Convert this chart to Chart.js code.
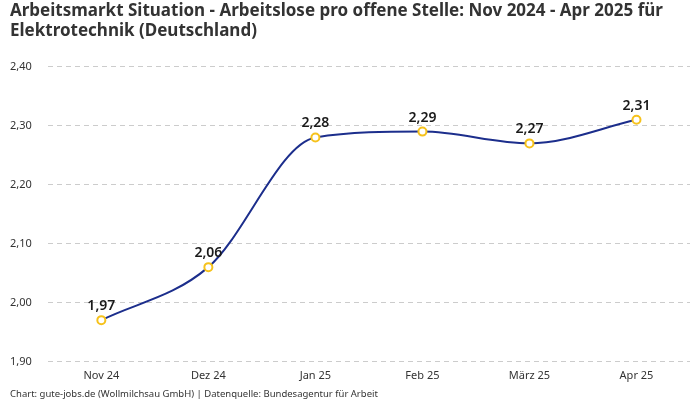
<!DOCTYPE html>
<html>
<head>
<meta charset="utf-8">
<script src="https://cdn.jsdelivr.net/npm/chart.js@4"></script>
<style>
  body { margin: 0; background: #fff; }
  #wrap { width: 700px; height: 400px; }
</style>
</head>
<body>
<div id="wrap"><canvas id="arbeitsChart"></canvas></div>
<script>
// months and values
var months = ['Nov 24', 'Dez 24', 'Jan 25', 'Feb 25', 'März 25', 'Apr 25'];
var ratioValues = [1.97, 2.06, 2.28, 2.29, 2.27, 2.31];
var yTicks = [1.9, 2.0, 2.1, 2.2, 2.3, 2.4];

var titleLines = ['Arbeitsmarkt Situation - Arbeitslose pro offene Stelle: Nov 2024 - Apr 2025 für', 'Elektrotechnik (Deutschland)'];
var sourceText = 'Chart: gute-jobs.de (Wollmilchsau GmbH) | Datenquelle: Bundesagentur für Arbeit';

function formatDe(v) {
    return v.toFixed(2).replace('.', ',');
}

// draw value above each point
var valueLabels = {
    id: 'valueLabels',
    afterDatasetsDraw: function (chart) {
        var ctx = chart.ctx;
        var meta = chart.getDatasetMeta(0);
        ctx.save();
        ctx.font = '600 14px "Noto Sans"';
        ctx.fillStyle = '#1a1a1a';
        ctx.textAlign = 'center';
        ctx.textBaseline = 'bottom';
        meta.data.forEach(function (pt, i) {
            ctx.fillText(formatDe(ratioValues[i]), pt.x, pt.y - 7);
        });
        ctx.restore();
    }
};

Chart.defaults.font.family = '"Noto Sans", sans-serif';
Chart.defaults.color = '#333';

new Chart(document.getElementById('arbeitsChart'), {
    type: 'line',
    data: {
        labels: months,
        datasets: [{
            data: ratioValues,
            borderColor: '#1c2e8c',
            borderWidth: 2,
            cubicInterpolationMode: 'monotone',
            pointBackgroundColor: '#fff',
            pointBorderColor: '#f6c21c',
            pointBorderWidth: 2,
            pointRadius: 4,
            fill: false
        }]
    },
    options: {
        responsive: true,
        maintainAspectRatio: false,
        animation: false,
        layout: { padding: { left: 10, right: 10, top: 0, bottom: 0 } },
        plugins: {
            legend: { display: false },
            tooltip: { enabled: false },
            title: {
                display: true,
                text: titleLines,
                align: 'start',
                color: '#333',
                font: { size: 17, weight: 'bold' },
                lineHeight: 1.15,
                padding: { top: 1, bottom: 25 }
            },
            subtitle: {
                display: true,
                position: 'bottom',
                text: sourceText,
                align: 'start',
                color: '#333',
                font: { size: 9.5 },
                padding: { top: 6, bottom: 0 }
            }
        },
        scales: {
            x: {
                offset: true,
                grid: { display: false },
                border: { display: false },
                ticks: { color: '#333', font: { size: 11 }, padding: 0 }
            },
            y: {
                min: 1.9,
                max: 2.4,
                afterBuildTicks: function (axis) {
                    axis.ticks = yTicks.map(function (v) { return { value: v }; });
                },
                grid: { color: '#cccccc', drawTicks: false },
                border: { display: false, dash: [5, 4] },
                ticks: {
                    color: '#333',
                    font: { size: 11 },
                    padding: 8,
                    crossAlign: 'far',
                    callback: function (v) { return formatDe(v); }
                }
            }
        }
    },
    plugins: [valueLabels]
});
</script>
</body>
</html>
